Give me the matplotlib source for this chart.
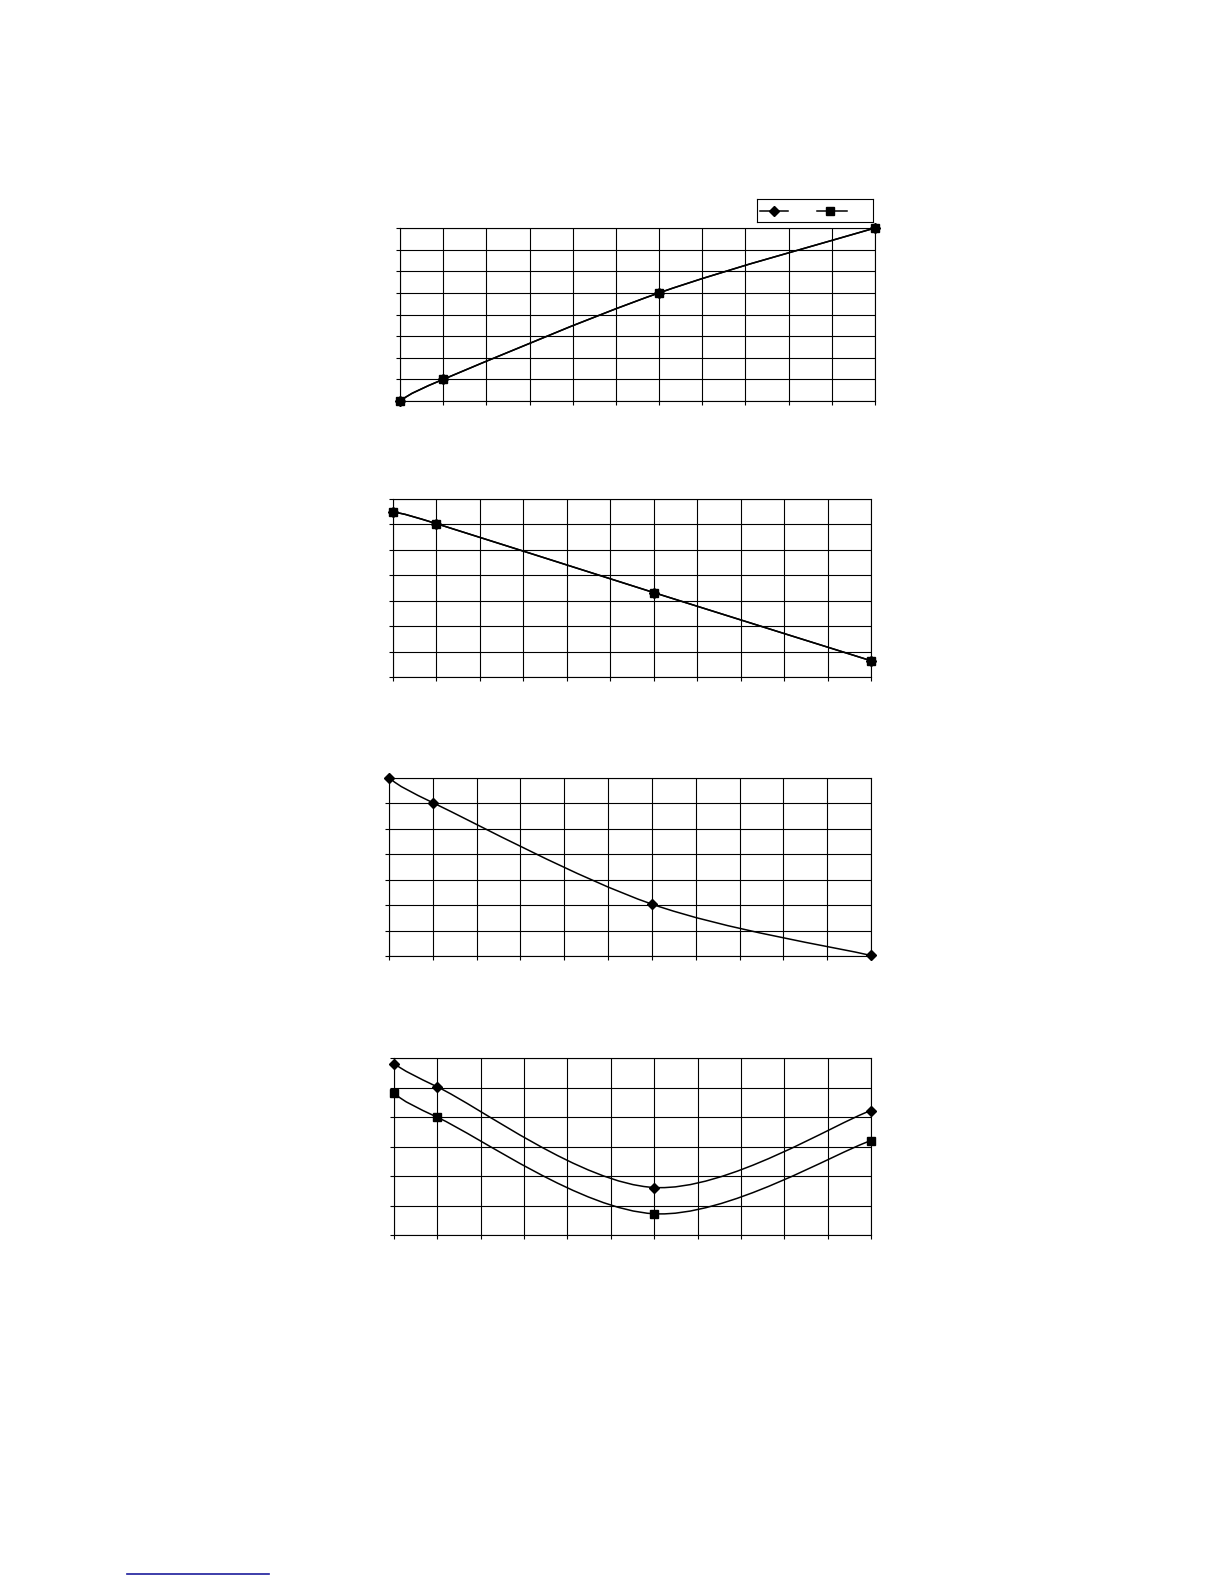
import numpy as np
import matplotlib
matplotlib.use("Agg")
import matplotlib.pyplot as plt
from matplotlib.path import Path
from matplotlib.patches import PathPatch, Rectangle
from matplotlib.lines import Line2D

# x positions of the measured points (in grid columns)
x_pts = [0, 1, 6, 11]

# chart 1 (both series coincide)
c1_diamond = [0.0, 1.0, 5.0, 8.0]
c1_square = [0.0, 1.0, 5.0, 8.0]
# chart 2 (both series coincide)
c2_diamond = [6.5, 6.03, 3.32, 0.64]
c2_square = [6.5, 6.03, 3.32, 0.64]
# chart 3 (diamond only)
c3_diamond = [7.0, 6.03, 2.04, 0.02]
# chart 4
c4_diamond = [5.81, 5.02, 1.61, 4.22]
c4_square = [4.8, 3.99, 0.72, 3.2]

n_cols = 11
rows = [8, 7, 7, 6]

W, H = 1224, 1584
fig = plt.figure(figsize=(W / 100, H / 100), dpi=100)

# pixel boxes of the plot areas: left, right, top, bottom
boxes = [(400, 875, 228, 401),
         (393, 871, 499, 677),
         (389, 871, 778, 956),
         (394, 871, 1058, 1235)]


def smooth(ax, xs, ys):
    # excel-like smoothed line through the points (bezier segments)
    p = np.column_stack([xs, ys]).astype(float)
    ext = np.vstack([p[0], p, p[-1]])
    verts = [tuple(p[0])]
    codes = [Path.MOVETO]
    for i in range(len(p) - 1):
        a, b, c, d = ext[i], ext[i + 1], ext[i + 2], ext[i + 3]
        c1 = b + (c - a) / 6.0
        c2 = c - (d - b) / 6.0
        verts += [tuple(c1), tuple(c2), tuple(c)]
        codes += [Path.CURVE4] * 3
    patch = PathPatch(Path(verts, codes), fill=False, edgecolor="black",
                      lw=1.1, clip_on=False, zorder=3)
    ax.add_patch(patch)


def series(ax, ys, marker, ms):
    smooth(ax, x_pts, ys)
    ax.plot(x_pts, ys, linestyle="none", marker=marker, ms=ms,
            color="black", clip_on=False, zorder=4)


axes = []
for (l, r, t, b), nr in zip(boxes, rows):
    ax = fig.add_axes([l / W, 1 - b / H, (r - l) / W, (b - t) / H])
    ax.set_xlim(0, n_cols)
    ax.set_ylim(0, nr)
    ax.set_xticks(range(n_cols + 1))
    ax.set_yticks(range(nr + 1))
    ax.set_xticklabels([])
    ax.set_yticklabels([])
    ax.tick_params(axis="both", direction="out", length=3, width=0.8,
                   color="black")
    ax.grid(True, color="black", lw=0.8)
    ax.set_axisbelow(True)
    for s in ax.spines.values():
        s.set_color("black")
        s.set_linewidth(0.8)
    axes.append(ax)

series(axes[0], c1_diamond, "D", 5)
series(axes[0], c1_square, "s", 6)
series(axes[1], c2_diamond, "D", 5)
series(axes[1], c2_square, "s", 6)
series(axes[2], c3_diamond, "D", 5)
series(axes[3], c4_diamond, "D", 5)
series(axes[3], c4_square, "s", 6)

# legend box above the first chart (labels are empty in the source)
lg = fig.add_axes([757 / W, 1 - 222 / H, 116 / W, 23 / H])
lg.set_xlim(0, 116)
lg.set_ylim(0, 23)
lg.set_xticks([])
lg.set_yticks([])
for s in lg.spines.values():
    s.set_linewidth(0.8)
lg.add_line(Line2D([3, 31], [11.5, 11.5], color="black", lw=1.1))
lg.plot([17], [11.5], marker="D", ms=5, color="black")
lg.add_line(Line2D([60, 90], [11.5, 11.5], color="black", lw=1.1))
lg.plot([73], [11.5], marker="s", ms=6, color="black")

# footnote separator line
fig.add_artist(Line2D([127 / W, 269 / W], [1 - 1574 / H, 1 - 1574 / H],
                      color="#1c1c9c", lw=1.2))

fig.savefig("out.png", dpi=100)
